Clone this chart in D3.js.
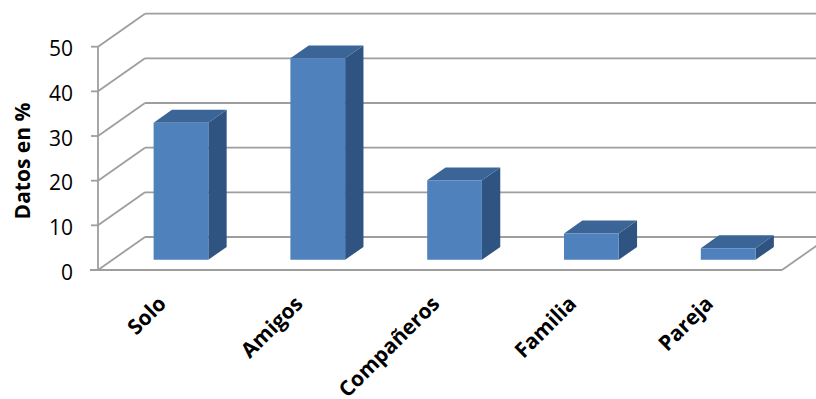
<!DOCTYPE html>
<html><head><meta charset="utf-8">
<script src="https://cdn.jsdelivr.net/npm/d3@7/dist/d3.min.js"></script>
<style>html,body{margin:0;padding:0;background:#fff;overflow:hidden}</style>
</head><body>
<svg id="chart" width="816" height="399"></svg>
<script>
const categories = ["Solo", "Amigos", "Compañeros", "Familia", "Pareja"];
const values = [30.7, 45.1, 17.8, 5.9, 2.6];
const yTicks = [0, 10, 20, 30, 40, 50];
const yTitle = "Datos en %";

const svg = d3.select("#chart");
const x0 = 98, x1 = 782;
const DX = 47, DY = 33;          // depth offset of back wall
const y = d3.scaleLinear().domain([0, 50]).range([270, 46.7]);
const x = d3.scaleBand().domain(categories).range([x0, x1]).paddingInner(0).paddingOuter(0);
const P = (px, v, d) => [px + d * DX, y(v) - d * DY];

const grid = svg.append("g").attr("stroke", "#9e9e9e").attr("stroke-width", 1.8).attr("fill", "none");
yTicks.forEach(t => {
  const a = P(x0, t, 1), b = P(x1, t, 1);
  grid.append("line").attr("x1", a[0]).attr("y1", a[1]).attr("x2", b[0] + 10).attr("y2", b[1]);
  const f = P(x0, t, 0);
  grid.append("line").attr("x1", f[0]).attr("y1", f[1]).attr("x2", a[0]).attr("y2", a[1]);
});
{
  const a = P(x0 - 8, 0, 0), b = P(x1, 0, 0), c = P(x1, 0, 1);
  grid.append("line").attr("x1", a[0]).attr("y1", a[1]).attr("x2", b[0]).attr("y2", b[1]);
  grid.append("line").attr("x1", b[0]).attr("y1", b[1]).attr("x2", c[0]).attr("y2", c[1]);
}
{
  const a = P(x0, 0, 0), b = P(x0, 50, 0);
  grid.append("line").attr("x1", a[0]).attr("y1", a[1]).attr("x2", b[0]).attr("y2", b[1]);
  yTicks.forEach(t => {
    grid.append("line").attr("x1", x0 - 7).attr("x2", x0).attr("y1", y(t)).attr("y2", y(t));
  });
}

const dFront = 0.31, dBack = 0.7;
const bars = svg.append("g").selectAll("g").data(categories).join("g");
bars.each(function (c, i) {
  const g = d3.select(this);
  const bw = x.bandwidth() * 0.4;
  const left = x(c) + (x.bandwidth() - bw) / 2;
  const right = left + bw;
  const v = values[i];
  const pt = (px, val, d) => P(px, val, d).join(",");
  g.append("polygon").attr("fill", "#2f5482")
    .attr("points", [pt(right, 0, dFront), pt(right, 0, dBack), pt(right, v, dBack), pt(right, v, dFront)].join(" "));
  g.append("polygon").attr("fill", "#3b6597")
    .attr("points", [pt(left, v, dFront), pt(right, v, dFront), pt(right, v, dBack), pt(left, v, dBack)].join(" "));
  g.append("polygon").attr("fill", "#4f81bd")
    .attr("points", [pt(left, 0, dFront), pt(right, 0, dFront), pt(right, v, dFront), pt(left, v, dFront)].join(" "));
});

svg.append("g").selectAll("text").data(yTicks).join("text")
  .attr("x", 73).attr("y", d => y(d) + 4)
  .attr("dominant-baseline", "middle").attr("text-anchor", "end")
  .attr("font-family", "'Open Sans', sans-serif").attr("font-size", 21).attr("fill", "#000")
  .text(d => d);

svg.append("text")
  .attr("transform", "translate(30,161) rotate(-90)")
  .attr("text-anchor", "middle")
  .attr("font-family", "'Open Sans', sans-serif").attr("font-weight", "bold").attr("font-size", 21)
  .text(yTitle);

svg.append("g").selectAll("text").data(categories).join("text")
  .attr("transform", d => `translate(${x(d) + x.bandwidth() / 2 + 1},305) rotate(-45)`)
  .attr("text-anchor", "end")
  .attr("font-family", "'Open Sans', sans-serif").attr("font-weight", "bold").attr("font-size", 21)
  .text(d => d);
</script>
</body></html>
